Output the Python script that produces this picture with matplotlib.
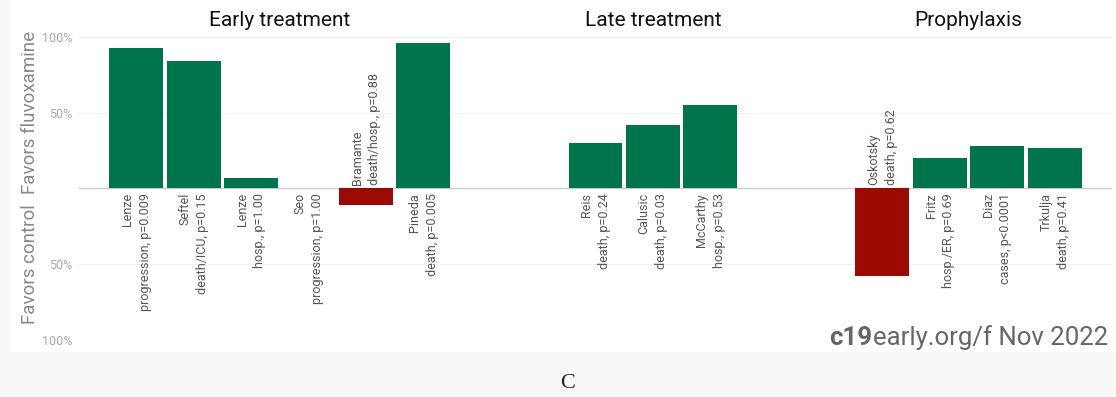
import matplotlib
matplotlib.use("Agg")
import matplotlib.pyplot as plt
from matplotlib.patches import Rectangle

plt.rcParams['font.family'] = ['Roboto', 'DejaVu Sans']

# data (percent improvement, negative = favors control)
groups = ["Early treatment", "Late treatment", "Prophylaxis"]
early_names = ["Lenze", "Seftel", "Lenze", "Seo", "Bramante", "Pineda"]
early_outcomes = ["progression, p=0.009", "death/ICU, p=0.15", "hosp., p=1.00",
                  "progression, p=1.00", "death/hosp., p=0.88", "death, p=0.005"]
early_vals = [93, 84, 7, 0, -11, 96]
late_names = ["Reis", "Calusic", "McCarthy"]
late_outcomes = ["death, p=0.24", "death, p=0.03", "hosp., p=0.53"]
late_vals = [30, 42, 55]
proph_names = ["Oskotsky", "Fritz", "Diaz", "Trkulja"]
proph_outcomes = ["death, p=0.62", "hosp./ER, p=0.69", "cases, p<0.0001", "death, p=0.41"]
proph_vals = [-58, 20, 28, 27]

green = "#00744a"
red = "#9b0a00"

fig = plt.figure(figsize=(11.16, 3.97), dpi=100)
fig.patch.set_facecolor("#f8f8f8")
fig.patches.append(Rectangle((10/1116, 45/397), 1 - 10/1116, 1 - 45/397,
                             transform=fig.transFigure, facecolor="white",
                             edgecolor="none", zorder=-10))

ax = fig.add_axes([79/1116, 1 - 340/397, 1033/1116, 303/397])
ax.set_facecolor("none")

# slots: groups separated by two empty slots
all_groups = [(early_names, early_outcomes, early_vals),
              (late_names, late_outcomes, late_vals),
              (proph_names, proph_outcomes, proph_vals)]
start = 0
centers = []
for names, outs, vals in all_groups:
    xs = list(range(start, start + len(vals)))
    centers.append((xs[0] + xs[-1]) / 2)
    cols = [green if v >= 0 else red for v in vals]
    ax.bar(xs, vals, width=0.94, color=cols, zorder=3)
    for x, n, o, v in zip(xs, names, outs, vals):
        if v >= 0:
            ax.text(x, -3, n + "\n" + o, rotation=90, ha="center", va="top",
                    multialignment="right", fontsize=9, color="#555555",
                    linespacing=1.45)
        else:
            ax.text(x, 2, n + "\n" + o, rotation=90, ha="center", va="bottom",
                    multialignment="left", fontsize=9, color="#555555",
                    linespacing=1.45)
    start = xs[-1] + 3

for g, c in zip(groups, centers):
    ax.text(c, 111, g, ha="center", va="center", fontsize=15, color="#111111",
            clip_on=False)

ax.set_xlim(-1, 17)
ax.set_ylim(-100, 100)
for y in [100, 50, -50]:
    ax.axhline(y, color="#edf1f5", lw=0.8, zorder=1)
ax.axhline(0, color="#cccccc", lw=1, zorder=2)

ax.set_xticks([])
ax.set_yticks([100, 50, -50, -100])
ax.set_yticklabels(["100%", "50%", "50%", "100%"], color="#aaaaaa", fontsize=9)
ax.tick_params(axis="y", length=0, pad=5)
for s in ax.spines.values():
    s.set_visible(False)

ax.text(-0.047, 0.75, "Favors fluvoxamine", rotation=90, ha="center", va="center",
        fontsize=13.5, color="#888888", transform=ax.transAxes)
ax.text(-0.047, 0.25, "Favors control", rotation=90, ha="center", va="center",
        fontsize=13.5, color="#888888", transform=ax.transAxes)

# watermark: bold "c19" followed by the rest
t2 = fig.text(1108/1116, 1 - 338/397, "early.org/f Nov 2022", ha="right",
              va="center", fontsize=18.5, color="#666666")
fig.canvas.draw()
bb = t2.get_window_extent()
fig.text(bb.x0 / 1116, 1 - 338/397, "c19", ha="right", va="center",
         fontsize=18.5, color="#666666", fontweight="bold")

fig.text(568/1116, 1 - 383/397, "C", ha="center", va="center", fontsize=16,
         family="Liberation Serif", color="#222222")

fig.savefig("out.png", dpi=100, facecolor=fig.get_facecolor())
